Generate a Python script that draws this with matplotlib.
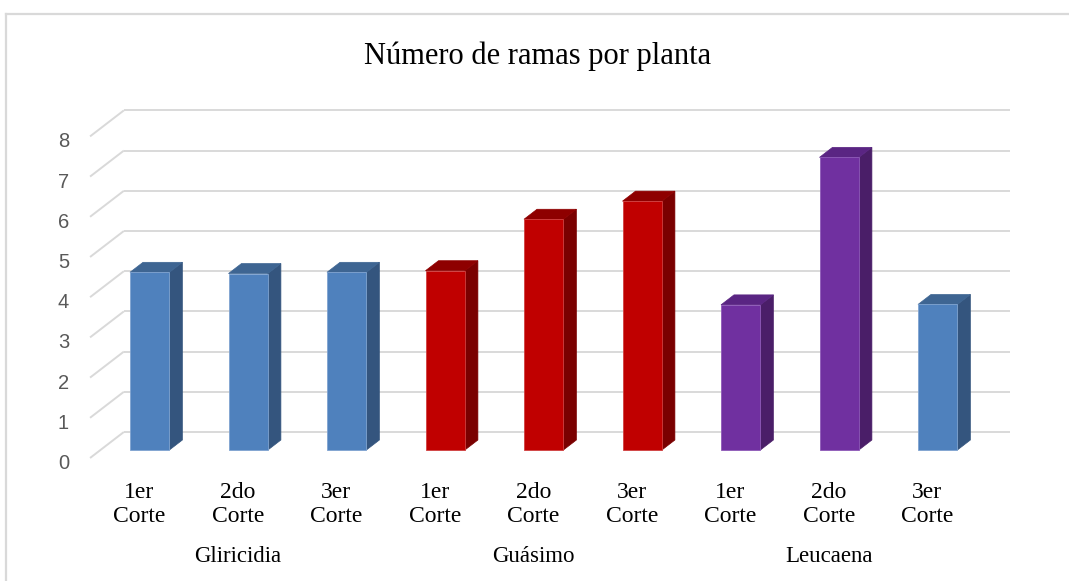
import matplotlib
matplotlib.use("Agg")
import matplotlib.pyplot as plt
from matplotlib.patches import Polygon
from matplotlib.lines import Line2D

# ---------------- data ----------------
groups = ["Gliricidia", "Guásimo", "Leucaena"]
cortes = ["1er\nCorte", "2do\nCorte", "3er\nCorte"]
gliricidia = [4.42, 4.39, 4.42]
guasimo = [4.46, 5.74, 6.19]
leucaena = [3.61, 7.28, 3.62]
bar_series = ["blue", "blue", "blue", "red", "red", "red", "purple", "purple", "blue"]
yticks = [0, 1, 2, 3, 4, 5, 6, 7, 8]
title = "Número de ramas por planta"

values = gliricidia + guasimo + leucaena
labels = cortes * len(groups)

palette = {
    "blue":   {"front": "#4F81BD", "side": "#34557E", "top": "#3E6592", "edge": "#7FA3D0"},
    "red":    {"front": "#C00000", "side": "#7A0000", "top": "#8E0000", "edge": "#D04040"},
    "purple": {"front": "#7030A0", "side": "#4A1E68", "top": "#5A2583", "edge": "#8E5AB8"},
}

# ---------------- layout (pixel scales for oblique projection) ----------------
W, H = 1069, 581
sx, sy = 98.5, 40.2        # px per category / per value unit
X0, Y0 = 139.3, 458.0      # pixel of (i=0, v=0) at floor front
slant = 1.3                # horizontal px per vertical px of depth
floor_depth = 26.0
bar_front_z, bar_depth = 8.0, 10.0
half_w = 0.2

def dz(z):
    """data offset for depth z (pixels)"""
    return slant * z / sx, z / sy

fig = plt.figure(figsize=(W / 100, H / 100), dpi=100)
ax = fig.add_axes([0, 0, 1, 1])
ax.set_xlim(-X0 / sx, (W - X0) / sx)
ax.set_ylim((Y0 - H) / sy, Y0 / sy)
ax.axis("off")

grid_c = "#d9d9d9"
n = len(values)
left, right = -0.5, n - 0.5
wx, wy = dz(floor_depth)

# back wall gridlines + side wall diagonals
for t in yticks:
    ax.plot([left + wx, right + wx], [t + wy, t + wy], color=grid_c, lw=1.4,
            solid_capstyle="butt", zorder=1)
    ax.plot([left, left + wx], [t, t + wy], color=grid_c, lw=1.4,
            solid_capstyle="butt", zorder=1)
    ax.text(left - 21 / sx, t - 3.5 / sy, str(t), ha="right", va="center_baseline",
            fontsize=14.5, color="#595959", family="Liberation Sans")

# bars
fx, fy = dz(bar_front_z)
bx, by = dz(bar_depth)
for i, (v, s) in enumerate(zip(values, bar_series)):
    c = palette[s]
    x0 = i + fx - half_w
    x1 = i + fx + half_w
    ax.bar(i + fx, v, width=2 * half_w, bottom=fy, color=c["front"],
           edgecolor=c["edge"], linewidth=0.6, zorder=3)
    side = [(x1, fy), (x1 + bx, fy + by), (x1 + bx, fy + v + by), (x1, fy + v)]
    top = [(x0, fy + v), (x0 + bx, fy + v + by), (x1 + bx, fy + v + by), (x1, fy + v)]
    ax.add_patch(Polygon(side, closed=True, facecolor=c["side"], edgecolor=c["side"],
                         linewidth=0.5, zorder=2.9))
    ax.add_patch(Polygon(top, closed=True, facecolor=c["top"], edgecolor=c["top"],
                         linewidth=0.5, zorder=2.9))

# category labels
for i, lab in enumerate(labels):
    ax.text(i, -46.5 / sy, lab, ha="center", va="center", fontsize=17,
            family="Liberation Serif", color="black", linespacing=1.25)

# group labels
for g, name in enumerate(groups):
    ax.text(g * 3 + 1, -99 / sy, name, ha="center", va="center", fontsize=16.5,
            family="Liberation Serif", color="black")

# title
fig.text(538 / W, 1 - 56 / H, title, ha="center", va="center", fontsize=22,
         family="Liberation Serif", color="black")

# chart border
fig.add_artist(Line2D([6 / W, 1], [1 - 14 / H, 1 - 14 / H], color=grid_c, lw=1.6,
                      transform=fig.transFigure))
fig.add_artist(Line2D([6 / W, 6 / W], [0, 1 - 14 / H], color=grid_c, lw=1.6,
                      transform=fig.transFigure))

fig.savefig("out.png", dpi=100)
